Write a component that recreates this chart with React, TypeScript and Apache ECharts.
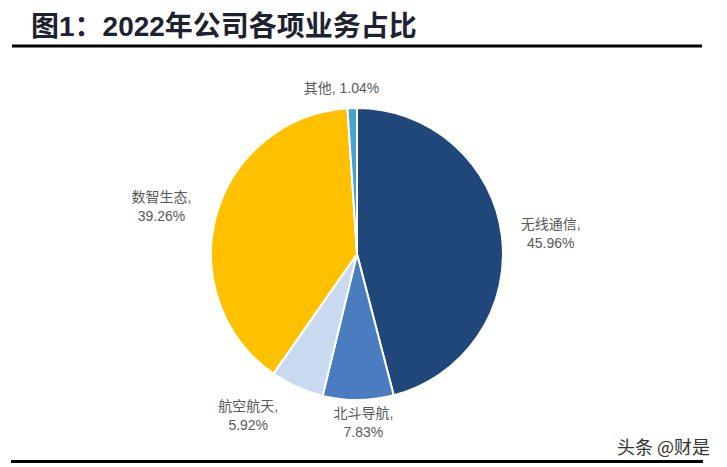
import React, { useEffect, useRef } from "react";
import * as echarts from "echarts";

const categories = ["无线通信", "北斗导航", "航空航天", "数智生态", "其他"];
const values = [45.96, 7.83, 5.92, 39.26, 1.04];
const colors = ["#1f477a", "#4a7cc0", "#c9d9f0", "#ffc000", "#43a3cc"];
const labelLen = [15, 23, 31, 32, 20];
const labelLen2 = [29, 0, 31, 19, 5];
const singleLine = [false, false, false, false, true];

export default function App() {
  const ref = useRef<HTMLDivElement>(null);
  useEffect(() => {
    if (!ref.current) return;
    const chart = echarts.init(ref.current, null, { renderer: "svg" });
    const data = categories.map((name, i) => ({
      name,
      value: values[i],
      itemStyle: { color: colors[i] },
      labelLine: { show: false, length: labelLen[i], length2: labelLen2[i] },
      label: {
        formatter: singleLine[i] ? "{b}, {c}%" : "{b},\n{c}%",
      },
    }));
    chart.setOption({
      animation: false,
      backgroundColor: "#ffffff",
      title: {
        text: "图1：2022年公司各项业务占比",
        left: 26,
        top: 7,
        textStyle: {
          fontSize: 28,
          fontWeight: "bold",
          color: "#1c2230",
          fontFamily: "Liberation Sans, Noto Sans CJK SC, sans-serif",
        },
      },
      graphic: [
        {
          type: "line",
          shape: { x1: 12, y1: 46, x2: 702, y2: 46 },
          style: { stroke: "#000", lineWidth: 3 },
        },
        {
          type: "line",
          shape: { x1: 11, y1: 461.5, x2: 703, y2: 461.5 },
          style: { stroke: "#000", lineWidth: 3 },
        },
        {
          type: "text",
          left: 617,
          top: 437,
          style: {
            text: "头条 @财是",
            fontSize: 18,
            fill: "#333",
            fontFamily: "Noto Sans CJK SC, sans-serif",
          },
        },
      ],
      series: [
        {
          type: "pie",
          center: [357, 254],
          radius: 146,
          startAngle: 90,
          clockwise: true,
          data,
          itemStyle: { borderColor: "#ffffff", borderWidth: 2 },
          label: {
            show: true,
            position: "outside",
            color: "#595959",
            fontSize: 14,
            lineHeight: 19,
            fontFamily: "Liberation Sans, Noto Sans CJK SC, sans-serif",
          },
          labelLayout: () => ({ align: "center" }),
        },
      ],
    });
    return () => chart.dispose();
  }, []);
  return (
    <div
      ref={ref}
      style={{ position: "fixed", left: 0, top: 0, width: 727, height: 467 }}
    />
  );
}
